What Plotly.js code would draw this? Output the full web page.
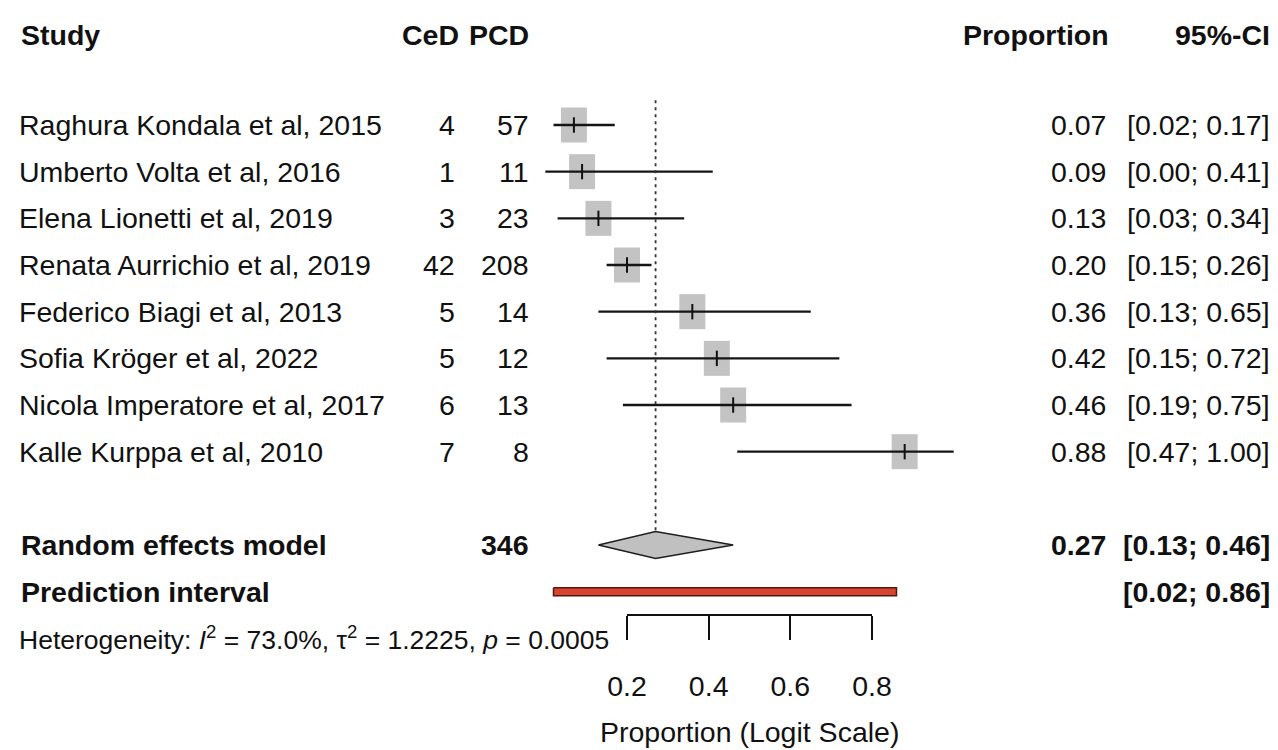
<!DOCTYPE html>
<html>
<head>
<meta charset="utf-8">
<script src="https://cdn.plot.ly/plotly-3.0.1.min.js"></script>
<style>html,body{margin:0;padding:0;background:#fff;}#chart{width:1278px;height:750px;}</style>
</head>
<body>
<div id="chart"></div>
<script>
// ---- data ----
const studies = ["Raghura Kondala et al, 2015","Umberto Volta et al, 2016","Elena Lionetti et al, 2019","Renata Aurrichio et al, 2019","Federico Biagi et al, 2013","Sofia Kröger et al, 2022","Nicola Imperatore et al, 2017","Kalle Kurppa et al, 2010"];
const ced = [4, 1, 3, 42, 5, 5, 6, 7];
const pcd = [57, 11, 23, 208, 14, 12, 13, 8];
const prop = [0.07, 0.09, 0.13, 0.20, 0.36, 0.42, 0.46, 0.88];
const ciLow = [0.02, 0.00, 0.03, 0.15, 0.13, 0.15, 0.19, 0.47];
const ciHigh = [0.17, 0.41, 0.34, 0.26, 0.65, 0.72, 0.75, 1.00];
const pooledN = 346;
const pooled = [0.27, 0.13, 0.46];      // estimate, lower, upper
const predInt = [0.02, 0.86];
const tickVals = [0.2, 0.4, 0.6, 0.8];
const tickText = ["0.2", "0.4", "0.6", "0.8"];
const hetText = "Heterogeneity: <i>I</i><sup>2</sup> = 73.0%, τ<sup>2</sup> = 1.2225, <i>p</i> = 0.0005";

// ---- layout geometry ----
const W = 1278, H = 750;
const X02 = 627, X08 = 872;                 // pixel of 0.2 and 0.8
const scale = (X08 - X02) / 0.6;
const xMin = 0.2 - X02 / scale, xMax = 0.2 + (W - X02) / scale;
const ROW1 = 125, ROWH = 46.67;
const yTop = 1 - ROW1 / ROWH, yBot = 1 + (H - ROW1) / ROWH;
const rows = studies.map((s, i) => i + 1);
const headerRow = -0.92, reRow = 10, piRow = 11, hetRow = 12, tickRowPx = 615;
const px = v => v / W;
const FONT = "Liberation Sans, Arial, sans-serif";
const FS = 28.5;
const SQ_W = 26 / scale, SQ_H = 35 / ROWH;

const traces = [];
// squares
traces.push({type: "bar", x: prop, y: prop.map(() => SQ_H), base: rows.map(r => r - SQ_H / 2),
  width: SQ_W, marker: {color: "#c3c3c3", line: {width: 0}}, hoverinfo: "skip", showlegend: false});
// CI lines
const cx = [], cy = [];
rows.forEach((r, i) => { cx.push(ciLow[i], ciHigh[i], null); cy.push(r, r, null); });
traces.push({type: "scatter", mode: "lines", x: cx, y: cy, line: {color: "#151515", width: 2.3}, hoverinfo: "skip", showlegend: false});
// estimate ticks
traces.push({type: "scatter", mode: "markers", x: prop, y: rows,
  marker: {symbol: "line-ns", size: 11, line: {color: "#111", width: 2}}, hoverinfo: "skip", showlegend: false});
// dashed reference line at pooled estimate
const dH = 13.5 / ROWH;
traces.push({type: "scatter", mode: "lines", x: [pooled[0], pooled[0]], y: [0.47, reRow - dH],
  line: {color: "#333", width: 1.8, dash: "3px,4px"}, hoverinfo: "skip", showlegend: false});
// diamond
traces.push({type: "scatter", mode: "lines", fill: "toself", fillcolor: "#c0c0c0",
  x: [pooled[1], pooled[0], pooled[2], pooled[0], pooled[1]],
  y: [reRow, reRow - dH, reRow, reRow + dH, reRow],
  line: {color: "#1e1e1e", width: 1.6}, hoverinfo: "skip", showlegend: false});
// prediction interval bar
const pH = 4 / ROWH;
traces.push({type: "scatter", mode: "lines", fill: "toself", fillcolor: "#d8442f",
  x: [predInt[0], predInt[1], predInt[1], predInt[0], predInt[0]],
  y: [piRow - pH, piRow - pH, piRow + pH, piRow + pH, piRow - pH],
  line: {color: "#4d1a10", width: 1.5}, hoverinfo: "skip", showlegend: false});
// invisible trace that hosts the visible axis
traces.push({type: "scatter", mode: "lines", x: [0.2, 0.8], y: [piRow, piRow], xaxis: "x2", yaxis: "y",
  line: {width: 0, color: "rgba(0,0,0,0)"}, hoverinfo: "skip", showlegend: false});

// ---- text ----
const ann = [];
function t(text, x, y, anchor, bold, size) {
  ann.push({text: bold ? "<b>" + text + "</b>" : text, x: px(x), xref: "paper", y: y, yref: "y",
    xanchor: anchor, yanchor: "middle", showarrow: false,
    font: {family: FONT, size: size || FS, color: "#111"}});
}
t("Study", 19, headerRow, "left", true);
t("CeD", 461, headerRow, "right", true);
t("PCD", 531, headerRow, "right", true);
t("Proportion", 1111, headerRow, "right", true);
t("95%-CI", 1272, headerRow, "right", true);
rows.forEach((r, i) => {
  t(studies[i], 17, r, "left");
  t(String(ced[i]), 457, r, "right");
  t(String(pcd[i]), 531, r, "right");
  t(prop[i].toFixed(2), 1108, r, "right");
  t("[" + ciLow[i].toFixed(2) + "; " + ciHigh[i].toFixed(2) + "]", 1272, r, "right");
});
t("Random effects model", 19, reRow, "left", true);
t(String(pooledN), 531, reRow, "right", true);
t(pooled[0].toFixed(2), 1108, reRow, "right", true);
t("[" + pooled[1].toFixed(2) + "; " + pooled[2].toFixed(2) + "]", 1272, reRow, "right", true);
t("Prediction interval", 19, piRow, "left", true);
t("[" + predInt[0].toFixed(2) + "; " + predInt[1].toFixed(2) + "]", 1272, piRow, "right", true);
t(hetText, 17, hetRow, "left", false, 26.5);
ann.push({text: "Proportion (Logit Scale)", x: 0.5, xref: "x", y: 14.0, yref: "y", xanchor: "center", yanchor: "middle",
  showarrow: false, font: {family: FONT, size: FS, color: "#111"}});

const layout = {
  width: W, height: H, autosize: false,
  margin: {l: 0, r: 0, t: 0, b: 0, pad: 0},
  paper_bgcolor: "#fff", plot_bgcolor: "rgba(0,0,0,0)",
  showlegend: false, barmode: "overlay",
  xaxis: {range: [xMin, xMax], domain: [0, 1], visible: false, showgrid: false, zeroline: false, fixedrange: true},
  xaxis2: {range: [0.2, 0.8], domain: [X02 / W, X08 / W], anchor: "free", position: (H - tickRowPx) / H,
    side: "bottom", showline: true, linecolor: "#111", linewidth: 2, ticks: "outside", ticklen: 24,
    tickwidth: 2, tickcolor: "#111", tickvals: tickVals, ticktext: tickText, showgrid: false, zeroline: false,
    ticklabelstandoff: 22, tickfont: {family: FONT, size: FS, color: "#111"}, fixedrange: true},
  yaxis: {range: [yBot, yTop], domain: [0, 1], visible: false, showgrid: false, zeroline: false, fixedrange: true},
  annotations: ann
};
Plotly.newPlot("chart", traces, layout, {displayModeBar: false, staticPlot: true});
</script>
</body>
</html>
